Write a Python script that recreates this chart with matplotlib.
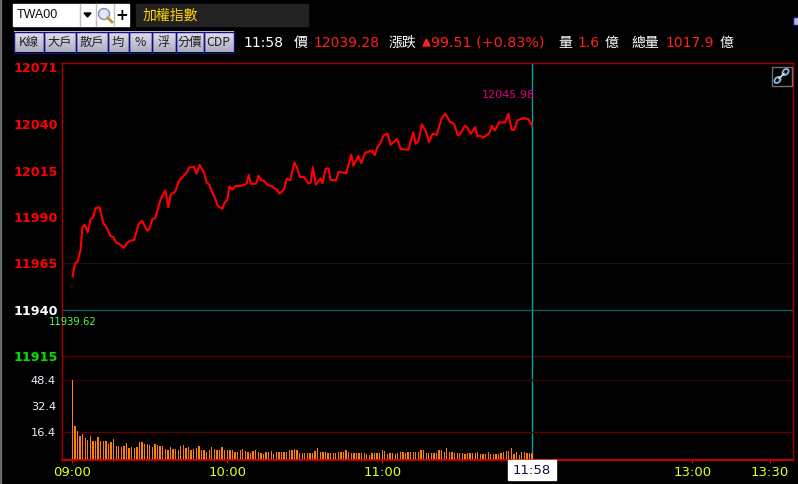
import numpy as np
import matplotlib
matplotlib.use("Agg")
import matplotlib.pyplot as plt
from matplotlib.patches import Rectangle, Polygon, Circle, Ellipse

plt.rcParams['font.family'] = ['DejaVu Sans', 'Noto Sans CJK TC']

# price line, minutes after 09:00
minutes = [0.1, 1.0, 2.0, 3.2, 3.9, 4.8, 6.0, 7.1, 8.1, 9.0, 10.5, 12.0, 12.9, 14.9, 15.9, 16.9, 18.5, 20.0,
           21.0, 22.3, 24.0, 25.7, 27.0, 29.0, 29.8, 31.0, 32.1, 34.2, 36.0, 37.2, 38.1, 39.9, 41.2, 42.7, 44.3,
           45.3, 47.1, 48.1, 49.3, 51.0, 52.0, 53.1, 54.0, 55.1, 56.3, 58.1, 59.0, 60.0, 60.8, 62.0, 63.1, 64.9,
           67.5, 68.3, 69.1, 71.1, 72.1, 73.2, 74.2, 75.5, 77.1, 78.1, 79.1, 80.2, 82.0, 83.0, 84.3, 86.0, 86.9,
           88.1, 89.7, 91.4, 92.3, 93.1, 94.3, 96.1, 96.9, 98.1, 99.2, 100.0, 102.1, 103.1, 106.0, 108.0, 108.8,
           110.7, 111.9, 113.3, 115.9, 117.1, 118.1, 119.1, 120.4, 122.0, 123.2, 125.8, 127.1, 130.1, 132.0, 132.9,
           134.0, 135.3, 136.9, 138.1, 139.5, 141.1, 143.0, 144.4, 146.2, 147.8, 149.2, 150.1, 152.0, 152.9, 154.2,
           156.0, 156.8, 157.8, 158.9, 161.3, 162.4, 163.6, 165.2, 167.5, 168.8, 170.1, 171.1, 172.3, 174.6, 176.5, 178.0]
prices = [11958.0, 11964.8, 11966.0, 11972.3, 11984.5, 11985.8, 11981.8, 11988.9, 11989.9, 11994.8, 11995.3, 11986.7,
          11985.3, 11979.5, 11979.2, 11976.3, 11975.2, 11973.4, 11975.9, 11977.2, 11977.7, 11986.3, 11988.0, 11982.7,
          11983.5, 11988.9, 11989.4, 11999.6, 12004.3, 11995.3, 12002.0, 12003.8, 12009.3, 12011.5, 12014.0, 12016.7,
          12017.0, 12013.3, 12018.1, 12014.0, 12008.6, 12007.2, 12003.8, 12000.7, 11996.0, 11994.4, 11997.8, 11999.3,
          12006.5, 12004.7, 12006.8, 12006.6, 12007.9, 12012.7, 12007.9, 12007.9, 12012.2, 12009.7, 12009.5, 12007.3,
          12006.8, 12005.4, 12005.0, 12002.5, 12005.0, 12010.6, 12009.7, 12019.4, 12016.9, 12011.5, 12011.5, 12008.2,
          12008.6, 12016.9, 12007.5, 12010.8, 12008.2, 12016.1, 12016.1, 12010.0, 12009.7, 12014.4, 12013.6, 12023.5,
          12017.6, 12023.0, 12019.0, 12024.4, 12025.9, 12023.3, 12027.6, 12029.4, 12033.7, 12035.0, 12028.9, 12032.0,
          12026.6, 12026.2, 12035.7, 12029.4, 12030.7, 12039.9, 12036.1, 12030.3, 12034.8, 12034.3, 12043.3, 12045.6,
          12041.3, 12040.2, 12034.1, 12034.6, 12039.1, 12038.2, 12034.8, 12038.4, 12033.4, 12033.9, 12032.7, 12034.8,
          12039.1, 12036.6, 12040.9, 12040.9, 12045.6, 12037.0, 12037.0, 12042.0, 12043.3, 12042.7, 12039.1]

# volume per minute, 09:00 to 11:58
volumes = [48.4, 20, 17.5, 14.5, 15.7, 13.3, 12, 14.5, 11.5, 11.5, 13.9, 11.5, 11, 11, 9.5, 10.5, 12.5, 8, 8, 7.5,
           8, 10, 7, 7.5, 7, 7.5, 10.5, 10.5, 9.5, 9.5, 9, 7.5, 9.5, 9, 8, 8, 6.5, 6, 7.5, 6.5,
           6.5, 6, 8, 8.5, 7, 7.5, 6, 6.5, 7, 8, 6, 6, 4.5, 6, 7.5, 6.5, 5.5, 5.5, 7.5, 5.5,
           5.5, 5.5, 5.5, 4.5, 4.5, 5.5, 6.5, 5, 4.5, 4, 5, 6, 4.5, 4, 3.5, 4.5, 4.5, 5, 3.5, 4.5, 4.5,
           4.5, 4.5, 4.5, 5.5, 6, 6.3, 5.5, 4, 4, 4, 4, 4, 4, 5.2, 7, 4.5, 4.5, 4.5, 3.8, 3.8, 3.8, 3.8,
           4.5, 4.5, 4.5, 5.5, 4.5, 4, 4, 4, 4, 4, 3.8, 3.5, 3, 3.7, 3.8, 3.8, 3.8, 5.7,
           5, 3.5, 4, 3.7, 3.5, 3.7, 4.8, 4.4, 3.8, 4.4, 4.4, 4.4, 4.5, 4.4, 5.5, 5.5, 3.7, 3.7, 3.7, 4, 3.7,
           5.5, 5.5, 4.5, 6.8, 4.7, 4.7, 3.7, 3.7, 3.7, 4.2, 3.5, 3.7, 3.7, 3.7, 4, 4.5, 3.5, 3.5, 3.5, 4.4,
           3.5, 3.3, 3.3, 3.3, 4, 4.5, 5, 5, 6.8, 3.5, 4.5, 3, 4.5, 4.5, 3.7, 3.7, 3.7]

price_ticks = [12071, 12040, 12015, 11990, 11965, 11940, 11915]
price_colors = ['#ff0000'] * 5 + ['#ffffff', '#00e000']
vol_ticks = [48.4, 32.4, 16.4]
time_ticks = [0, 60, 120, 240, 270]
time_labels = ['09:00', '10:00', '11:00', '13:00', '13:30']
btn_text = ['K線', '大戶', '散戶', '均', '%', '浮', '分價', 'CDP']

W, H = 798, 484
fig = plt.figure(figsize=(W / 100, H / 100), dpi=100, facecolor='black')
pos = [61.5 / W, 1 - 459.5 / H, 732 / W, 396.5 / H]

ax = fig.add_axes(pos, facecolor='black')
ax.set_xlim(-4.18, 279.2)
ax.set_ylim(11859.5, 12072.9)
for s in ax.spines.values():
    s.set_color('#a80000')
    s.set_linewidth(1)
ax.axhline(11965, color='#2a1010', lw=0.8)
ax.axhline(11940, color='#0f5f5f', lw=1)
ax.axhline(11915, color='#5a0000', lw=1)
ax.axvline(178, color='#00a0a0', lw=1)
ax.plot(minutes, prices, color='#ff0000', lw=1.5, zorder=4, solid_joinstyle='round')
ax.set_yticks(price_ticks)
ax.set_yticklabels([str(p) for p in price_ticks], fontweight='bold', fontsize=9.2)
for lab, c in zip(ax.get_yticklabels(), price_colors):
    lab.set_color(c)
ax.tick_params(axis='y', length=0, pad=2.5)
ax.set_xticks(time_ticks)
ax.set_xticklabels(time_labels, fontsize=9.5, color='#e4ff20')
ax.tick_params(axis='x', length=2, color='#ff0000', pad=3)
ax.text(169, 12045.98 + 9.5, '12045.98', color='#e0007f', fontsize=8, ha='center', va='center')
ax.text(0.3, 11939.62 - 6, '11939.62', color='#50ff50', fontsize=7.2, ha='center', va='center', clip_on=False)

vax = fig.add_axes(pos, facecolor='none')
vax.set_xlim(-4.18, 279.2)
vax.set_ylim(0, 240.3)
vax.patch.set_alpha(0)
for s in vax.spines.values():
    s.set_visible(False)
vax.set_xticks([])
vax.axhline(48.4, color='#3c0000', lw=1)
vax.axhline(16.4, color='#5c0000', lw=1)
vax.bar(np.arange(len(volumes)), volumes, width=0.5, color='#ff8000', zorder=3)
vax.axhline(0, color='#e00000', lw=2, zorder=4)
vax.set_yticks(vol_ticks)
vax.set_yticklabels([str(v) for v in vol_ticks], fontsize=8.2, color='#eef2ff')
vax.tick_params(axis='y', length=0, pad=4)

# window chrome drawn in pixel coordinates
ui = fig.add_axes([0, 0, 1, 1], facecolor='none')
grad = np.linspace(0.88, 0.68, 20).reshape(-1, 1)
ui.imshow(np.dstack([grad, grad, np.minimum(grad + 0.07, 1)]),
          extent=(13.5, 233.5, 52.5, 32), aspect='auto', zorder=1)
ui.set_xlim(0, W)
ui.set_ylim(H, 0)
ui.axis('off')
ui.add_patch(Rectangle((0, 0), 1.2, H, color='#6a6a6a'))
ui.add_patch(Rectangle((13, 4), 116, 22, color='white'))
ui.plot([79.5, 79.5], [4, 26], color='#c0c0c0', lw=1)
ui.plot([95.5, 95.5], [4, 26], color='#c0c0c0', lw=1)
ui.plot([113.5, 113.5], [4, 26], color='#c0c0c0', lw=1)
ui.text(17, 15.5, 'TWA00', color='#111111', fontsize=9, va='center', family='Liberation Sans')
ui.add_patch(Polygon([[84, 13], [91, 13], [87.5, 17]], color='black'))
ui.add_patch(Circle((104, 14), 5.5, fc='#dce8f6', ec='#8090a8', lw=1))
ui.plot([108, 112], [18, 22], color='#c09030', lw=2)
ui.text(121.5, 15, '+', color='black', fontsize=11, fontweight='bold', ha='center', va='center')
ui.add_patch(Rectangle((136, 4), 172, 22, color='#222222'))
ui.text(143, 15.5, '加權指數', color='#ffd400', fontsize=10, va='center', family='Noto Sans CJK TC')

btn_edges = [13.5, 43.5, 75.5, 107.5, 128.5, 151.5, 175.5, 203.5, 233.5]
for i, t in enumerate(btn_text):
    x0, x1 = btn_edges[i], btn_edges[i + 1]
    ui.add_patch(Rectangle((x0, 32), x1 - x0, 20.5, fc='none', ec='#10107a', lw=1, zorder=2))
    ui.text((x0 + x1) / 2, 42.5, t, color='#202020', fontsize=8.8, ha='center', va='center', zorder=3,
            family=['Noto Sans CJK TC', 'DejaVu Sans'])

head = [(243, '11:58', 'white'), (294, '價', 'white'), (313, '12039.28', '#ff2020'), (389, '漲跌', 'white'),
        (431, '99.51 (+0.83%)', '#ff2020'), (558, '量', 'white'), (577, '1.6', '#ff2020'), (605, '億', 'white'),
        (631, '總量', 'white'), (665, '1017.9', '#ff2020'), (720, '億', 'white')]
for x, t, c in head:
    ui.text(x, 43, t, color=c, fontsize=10.3 if t.startswith('99') else 10, va='center')
ui.add_patch(Polygon([[423, 46], [430, 46], [426.5, 39]], color='#ff2020'))
ui.add_patch(Rectangle((792.5, 17), 6, 8, color='#b8b8cc', ec='#10107a', lw=1))

ui.add_patch(Rectangle((771.5, 66.5), 20, 19, fc='black', ec='#707070', lw=1))
ui.add_patch(Ellipse((777.5, 80), 7, 5, angle=-45, fc='none', ec='#90b8e0', lw=1.3))
ui.add_patch(Ellipse((785.5, 72), 7, 5, angle=-45, fc='none', ec='#90b8e0', lw=1.3))
ui.plot([779, 784], [78.5, 73.5], color='#d0e0f0', lw=1.2)

ui.add_patch(Rectangle((508, 460), 48, 20, color='white', zorder=5))
ui.text(532, 470, '11:58', color='#101040', fontsize=9.5, ha='center', va='center', zorder=6)

fig.savefig('out.png', dpi=100, facecolor='black')
